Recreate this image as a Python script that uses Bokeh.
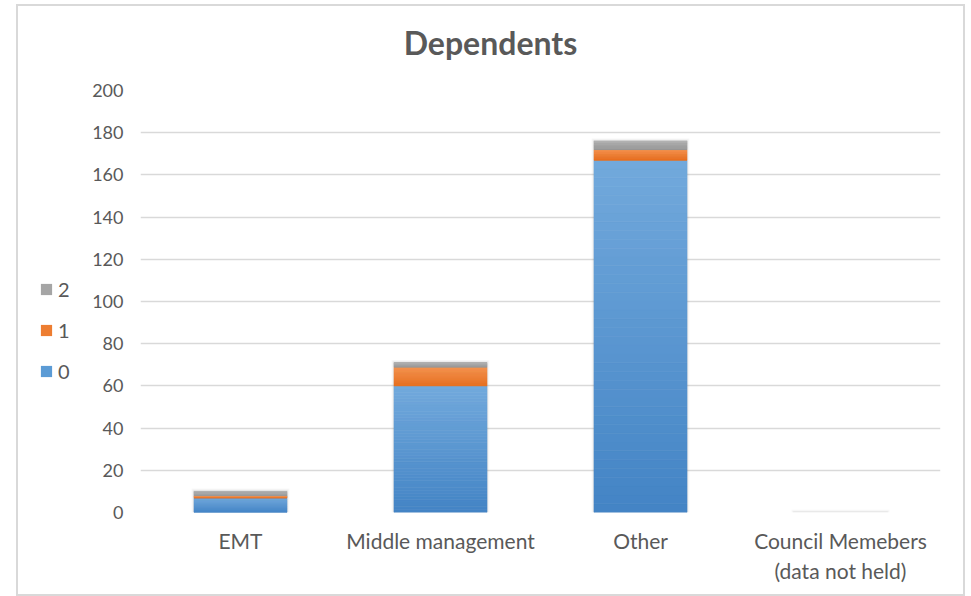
from bokeh.plotting import figure
from bokeh.layouts import row, column
from bokeh.models import (ColumnDataSource, FactorRange, Range1d, FixedTicker,
                          Legend, LegendItem, Label)
from bokeh.embed import file_html
from bokeh.resources import INLINE

# --- data -----------------------------------------------------------------
categories = ["EMT", "Middle management", "Other",
              "Council Memebers\n(data not held)"]
dependents_0 = [7, 60, 167, 0]
dependents_1 = [1, 9, 5, 0]
dependents_2 = [2, 2, 4, 0]
series_labels = ["0", "1", "2"]
y_ticks = [0, 20, 40, 60, 80, 100, 120, 140, 160, 180, 200]
chart_title = "Dependents"

# --- style ----------------------------------------------------------------
FONT = "Lato"
TEXT = "#595959"
GRID = "#D9D9D9"
BAR_W = 0.465
# (light top colour, dark bottom colour) for each stacked series
GRADIENTS = [("#72A9DC", "#4384C5"),
             ("#F4924F", "#E66F1F"),
             ("#B0B0B0", "#999999")]
BASE = ["#5B9BD5", "#ED7D31", "#A5A5A5"]
BANDS = 40

INNER_W = 945          # drawing area inside the chart border
TITLE_H = 56
BODY_H = 532
LEGEND_W = 70


def hex_to_rgb(h):
    h = h.lstrip("#")
    return tuple(int(h[i:i + 2], 16) for i in (0, 2, 4))


def mix(c_top, c_bot, t):
    a, b = hex_to_rgb(c_top), hex_to_rgb(c_bot)
    return "#%02x%02x%02x" % tuple(round(b[i] + (a[i] - b[i]) * t) for i in range(3))


def blank_figure(w, h):
    f = figure(width=w, height=h, x_range=Range1d(0, w), y_range=Range1d(0, h),
               output_backend="svg", toolbar_location=None, min_border=0)
    f.axis.visible = False
    f.grid.visible = False
    f.outline_line_color = None
    f.background_fill_color = "white"
    f.border_fill_color = "white"
    return f


# --- title strip ------------------------------------------------------------
head = blank_figure(INNER_W, TITLE_H)
head.add_layout(Label(x=472, y=20, text=chart_title, text_font=FONT,
                      text_font_size="32px", text_font_style="bold",
                      text_color=TEXT, text_align="center",
                      text_baseline="middle"))

# --- main chart -------------------------------------------------------------
fig = figure(width=INNER_W - LEGEND_W, height=BODY_H,
             frame_width=800, frame_height=422,
             x_range=FactorRange(*categories, range_padding=0),
             y_range=Range1d(0, 200), output_backend="svg", toolbar_location=None,
             min_border_left=52, min_border_right=23, min_border_top=28,
             min_border_bottom=82)
fig.outline_line_color = None
fig.background_fill_color = "white"
fig.border_fill_color = "white"

# soft shadow around each stacked column
totals = [a + b + c for a, b, c in zip(dependents_0, dependents_1, dependents_2)]
for grow, alpha in ((0.012, 0.05), (0.008, 0.07), (0.004, 0.10)):
    fig.vbar(x=categories, bottom=0, top=[t + grow * 110 for t in totals],
             width=BAR_W + 2 * grow, fill_color="#808080", fill_alpha=alpha,
             line_color=None)

# stacked columns, each segment filled with a vertical gradient
stack = [dependents_0, dependents_1, dependents_2]
base = [0] * len(categories)
for s, values in enumerate(stack):
    xs, bots, tops, cols = [], [], [], []
    for cat, b0, v in zip(categories, base, values):
        if v <= 0:
            continue
        for k in range(BANDS):
            xs.append(cat)
            bots.append(b0 + v * k / BANDS)
            tops.append(b0 + v * (k + 1) / BANDS)
            cols.append(mix(GRADIENTS[s][0], GRADIENTS[s][1], (k + 0.5) / BANDS))
    src = ColumnDataSource(dict(x=xs, bottom=bots, top=tops, color=cols))
    fig.vbar(x="x", bottom="bottom", top="top", width=BAR_W, source=src,
             fill_color="color", line_color="color", line_width=0.6)
    base = [b + v for b, v in zip(base, values)]

fig.yaxis.ticker = FixedTicker(ticks=y_ticks)
fig.yaxis.axis_line_color = None
fig.yaxis.major_tick_line_color = None
fig.yaxis.minor_tick_line_color = None
fig.yaxis.major_label_standoff = 11
fig.yaxis.major_label_text_font = FONT
fig.yaxis.major_label_text_font_size = "18px"
fig.yaxis.major_label_text_color = TEXT

fig.xaxis.axis_line_color = None
fig.xaxis.major_tick_line_color = None
fig.xaxis.major_label_standoff = 9
fig.xaxis.major_label_text_font = FONT
fig.xaxis.major_label_text_font_size = "21px"
fig.xaxis.major_label_text_color = TEXT

fig.xgrid.grid_line_color = None
fig.ygrid.grid_line_color = GRID
fig.ygrid.grid_line_width = 1.3

# --- legend column ----------------------------------------------------------
side = blank_figure(LEGEND_W, BODY_H)
swatches = [side.vbar(x=[0], bottom=[0], top=[0], width=1, fill_color=c,
                      line_color=None) for c in BASE]
legend = Legend(items=[LegendItem(label=series_labels[i], renderers=[swatches[i]])
                       for i in (2, 1, 0)],
                location=(21, 129), padding=0, margin=0, spacing=17,
                glyph_width=14, glyph_height=14, label_standoff=5,
                label_text_font=FONT, label_text_font_size="20px",
                label_text_color=TEXT, border_line_color=None,
                background_fill_alpha=0)
side.add_layout(legend, "center")

p = column(head, row(side, fig), margin=(4, 0, 0, 16),
           styles={"border": "2px solid #D9D9D9"})

open("out.html", "w").write(file_html(p, INLINE))
